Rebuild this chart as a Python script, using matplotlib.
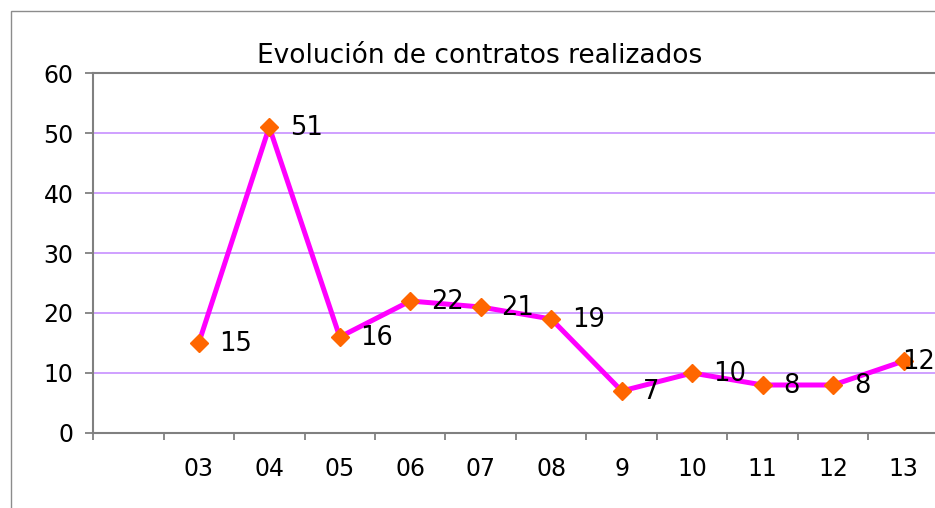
import matplotlib.pyplot as plt
from matplotlib.patches import Rectangle

# contracts per year (first slot of the category axis is empty)
years = ['', '03', '04', '05', '06', '07', '08', '9', '10', '11', '12', '13']
contratos = [None, 15, 51, 16, 22, 21, 19, 7, 10, 8, 8, 12]

W, H = 935, 508
fig = plt.figure(figsize=(W / 100, H / 100), dpi=100)

# outer chart frame (runs past the right/bottom edge)
fig.patches.append(Rectangle((11 / W, -0.1), 1.2, 1.1 - 11 / H, transform=fig.transFigure,
                             fill=False, edgecolor='#8c8c8c', lw=1.0))

left, right, top, bottom = 93, 939, 73, 433
ax = fig.add_axes([left / W, 1 - bottom / H, (right - left) / W, (bottom - top) / H])

xs = [i for i, v in enumerate(contratos) if v is not None]
ys = [v for v in contratos if v is not None]
ax.plot(xs, ys, color='#ff00ff', lw=3.6, marker='D', ms=9.5,
        markerfacecolor='#ff6600', markeredgecolor='#ff6600', zorder=3, clip_on=False)

# value labels to the right of each point; the last one is pulled in to fit
for i, (x, y) in enumerate(zip(xs, ys)):
    dx = -1 if i == len(xs) - 1 else 15
    ax.annotate(str(y), (x, y), xytext=(dx, -1), textcoords='offset points',
                ha='left', va='center', fontsize=18.5, color='black', zorder=4)

ax.set_xlim(-0.5, len(years) - 0.5)
ax.set_ylim(0, 60)
ax.set_yticks(range(0, 61, 10))
ax.set_xticks([i + 0.5 for i in range(-1, len(years))], minor=False)
ax.set_xticklabels([''] * (len(years) + 1))
ax.set_xticks(range(len(years)), minor=True)
ax.set_xticklabels(years, minor=True)
ax.tick_params(axis='x', which='minor', length=0, pad=17, labelsize=17)
ax.tick_params(axis='x', which='major', length=5, color='#808080', width=1.3, direction='out')
ax.tick_params(axis='y', length=6, color='#808080', width=1.3, labelsize=17, pad=8)

for y in range(10, 60, 10):
    ax.axhline(y, color='#cc99ff', lw=1.3, zorder=1)

for s in ['left', 'bottom', 'top']:
    ax.spines[s].set_color('#808080')
    ax.spines[s].set_linewidth(1.5)
ax.spines['right'].set_visible(False)

fig.text(480 / W, 1 - 56 / H, 'Evolución de contratos realizados', ha='center', va='center',
         fontsize=19)

fig.savefig('out.png', dpi=100)
